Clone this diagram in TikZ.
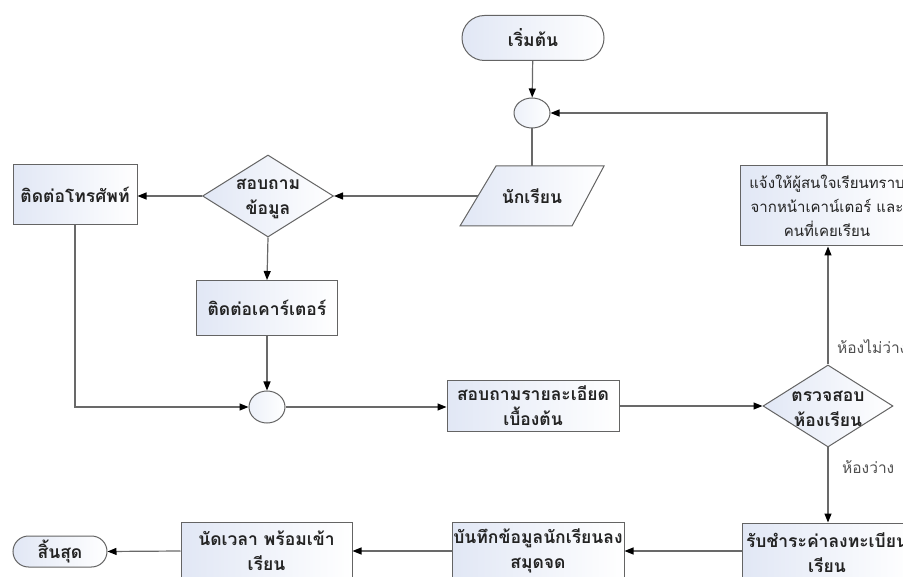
\documentclass[tikz,border=0pt]{standalone}
\usepackage{fontspec}
\newfontfamily\thai[Script=Thai]{Loma}
\usetikzlibrary{arrows.meta,shapes.geometric,shapes.misc}
\definecolor{lc}{RGB}{105,105,105}
\definecolor{bd}{RGB}{100,100,100}
\definecolor{fb}{RGB}{225,231,245}
\definecolor{tx}{RGB}{35,35,35}
\definecolor{lt}{RGB}{80,80,80}
\begin{document}
\begin{tikzpicture}[x=1pt,y=-1pt,
  box/.style={draw=bd,line width=1pt,left color=fb,right color=white,text=tx,
    font=\thai\bfseries\fontsize{17.5}{25}\selectfont,align=center,inner sep=0pt},
  proc/.style={box,rectangle},
  term/.style={box,rounded rectangle},
  dec/.style={box,diamond},
  circ/.style={draw=bd,line width=1pt,left color=fb!60,right color=white,ellipse,inner sep=0pt},
  txt/.style={text=tx,font=\thai\bfseries\fontsize{17.5}{25}\selectfont,align=center,inner sep=0pt},
  lbl/.style={text=lt,font=\thai\fontsize{15.5}{18}\selectfont,inner sep=0pt,anchor=west},
  conn/.style={draw=lc,line width=1.2pt},
  arr/.style={conn,-{Triangle[length=9pt,width=7pt,color=black]}}
]
\useasboundingbox (0,0) rectangle (903,577);
\clip (0,0) rectangle (903,577);
\fill[white] (0,0) rectangle (903,577);

\node[term,minimum width=142pt,minimum height=45pt] (start) at (533,38) {เริ่มต้น};
\node[circ,minimum width=36pt,minimum height=30pt] (c1) at (532,113) {};

\draw[box] (496,166) -- (604,166) -- (572,226) -- (460,226) -- cycle;
\node[txt] (stud) at (532,196) {นักเรียน};
\coordinate (studtop) at (532,166);
\coordinate (studw) at (478,196);

\node[dec,minimum width=131pt,minimum height=82pt] (ask) at (268,196) {};
\node[txt] (askt) at (268,199) {สอบถาม\\ข้อมูล};
\node[proc,minimum width=124pt,minimum height=60pt] (phone) at (75,195) {ติดต่อโทรศัพท์};
\node[proc,minimum width=141pt,minimum height=55pt] (counter) at (267,308) {ติดต่อเคาร์เตอร์};
\node[circ,minimum width=36pt,minimum height=32pt] (c2) at (267,407) {};
\node[proc,minimum width=172pt,minimum height=51pt] (detail) at (533,406) {สอบถามรายละเอียด\\เบื้องต้น};
\node[dec,minimum width=130pt,minimum height=82pt] (check) at (828,406) {};
\node[txt] (checkt) at (828,409) {ตรวจสอบ\\ห้องเรียน};
\node[proc,minimum width=174pt,minimum height=80pt,font=\thai\fontsize{15}{24}\selectfont] (notify) at (827,206) {แจ้งให้ผู้สนใจเรียนทราบ\\จากหน้าเคาน์เตอร์ และ\\คนที่เคยเรียน};
\node[proc,minimum width=170pt,minimum height=60pt] (pay) at (827,553) {รับชำระค่าลงทะเบียน\\เรียน};
\node[proc,minimum width=172pt,minimum height=58pt] (record) at (538,551) {บันทึกข้อมูลนักเรียนลง\\สมุดจด};
\node[proc,minimum width=171pt,minimum height=58pt] (appoint) at (266.5,551) {นัดเวลา พร้อมเข้า\\เรียน};
\node[term,minimum width=94pt,minimum height=31pt] (end) at (60,551.5) {สิ้นสุด};

\node[lbl] (lbusy) at (837,347) {ห้องไม่ว่าง};
\node[lbl] (lfree) at (842,467) {ห้องว่าง};

\draw[arr] (start) -- (c1);
\draw[conn] (c1) -- (studtop);
\draw[arr] (studw) -- (ask.east);
\draw[arr] (ask.west) -- (phone.east |- ask.west);
\draw[arr] (ask.south) -- (counter.north);
\draw[arr] (phone.south) |- (c2.west);
\draw[arr] (counter.south) -- (c2.north);
\draw[arr] (c2.east) -- (detail.west |- c2.east);
\draw[arr] (detail.east) -- (check.west);
\draw[arr] (check.north) -- (check.north |- notify.south);
\draw[arr] (notify.north) |- (c1.east);
\draw[arr] (check.south) -- (check.south |- pay.north);
\draw[arr] (pay.west |- record.east) -- (record.east);
\draw[arr] (record.west) -- (appoint.east);
\draw[arr] (appoint.west) -- (end.east);
\end{tikzpicture}
\end{document}
